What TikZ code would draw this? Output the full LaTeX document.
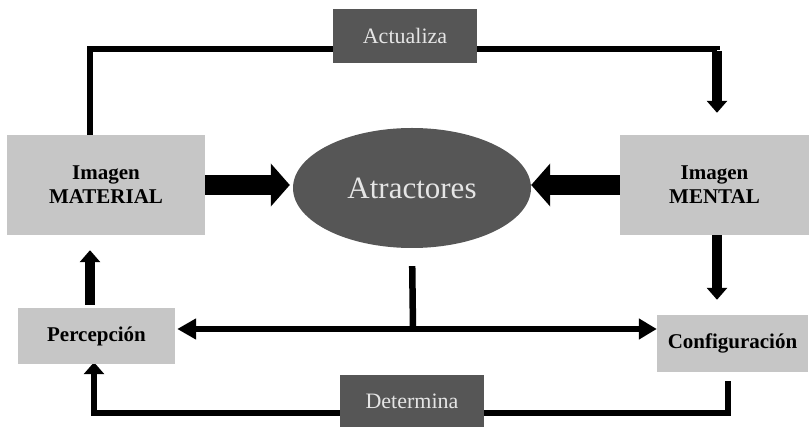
\documentclass[tikz,border=0pt]{standalone}
\usepackage{fontspec}
\setmainfont{Liberation Serif}
\usetikzlibrary{arrows.meta,backgrounds,calc,shapes.geometric}
\definecolor{boxgray}{HTML}{C6C6C6}
\definecolor{darkbox}{HTML}{565656}
\begin{document}
\begin{tikzpicture}[x=1pt,y=-1pt,
  lightbox/.style={fill=boxgray, inner sep=0pt, align=center,
    font=\fontsize{21}{24}\selectfont\bfseries},
  darklabel/.style={fill=darkbox, text=white!90!black, inner sep=0pt,
    font=\fontsize{22}{26}\selectfont},
  link/.style={line width=6.5pt, line join=miter},
  stub/.style={line width=9.5pt, line join=miter},
  smallhead/.style={-{Triangle[length=12pt,width=20pt]}},
  bighead/.style={line width=20pt, -{Triangle[length=19pt,width=42pt]}},
]
\useasboundingbox (0,0) rectangle (809,427);

% boxes
\node[lightbox, minimum width=198pt, minimum height=100pt] (mat) at (106,185) {Imagen\\MATERIAL};
\node[lightbox, minimum width=189pt, minimum height=100pt] (men) at (714.5,185) {Imagen\\MENTAL};
\node[lightbox, minimum width=157pt, minimum height=56pt] (per) at (96.5,336) {Percepción};
\node[lightbox, minimum width=151pt, minimum height=57pt] (conf) at (732.5,343.5) {Configuración};
\node[ellipse, fill=darkbox, text=white!90!black, inner sep=0pt,
      minimum width=238pt, minimum height=120pt,
      font=\fontsize{31}{35}\selectfont] (attr) at (412,188) {Atractores};
\node[darklabel, minimum width=144pt, minimum height=54pt] (act) at (405,36) {Actualiza};
\node[darklabel, minimum width=144pt, minimum height=52pt] (det) at (412,401) {Determina};

% bends of the loops
\coordinate (tl) at (90,49);
\coordinate (tr) at (717,49);
\coordinate (hub) at (413,329);
\coordinate (bl) at (94,413);
\coordinate (br) at (728,413);

\begin{scope}[on background layer]
  % upper loop: material image updates the mental image
  \draw[link] (mat.north -| tl) -- (tl) -- (tr) -- ([yshift=-1pt]tr);
  \draw[stub, smallhead, shorten >=22pt] ([yshift=-2pt]tr) -- (men.north -| tr);
  % both images feed the attractors
  \draw[bighead] (mat.east) -- ([xshift=-3pt]attr.west |- mat.east);
  \draw[bighead] (men.west) -- (attr.east |- men.west);
  % mental image leads to configuration
  \draw[stub, smallhead, shorten >=15pt] (men.south -| tr) -- (conf.north -| tr);
  % perception leads to material image
  \draw[stub, smallhead, shorten <=3pt, shorten >=15pt] (per.north -| tl) -- (mat.south -| tl);
  % attractors split towards perception and configuration
  \draw[link, shorten <=18pt] (attr.south) -- (hub);
  \draw[link, {Triangle[length=19pt,width=20pt]}-{Triangle[length=18pt,width=20pt]}]
    ([xshift=2pt]per.east |- hub) -- (conf.west |- hub);
  % lower loop: configuration determines perception
  \draw[link, smallhead, shorten <=9pt, shorten >=-2pt] (conf.south -| br) -- (br) -- (bl) -- (per.south -| bl);
\end{scope}
\end{tikzpicture}
\end{document}
